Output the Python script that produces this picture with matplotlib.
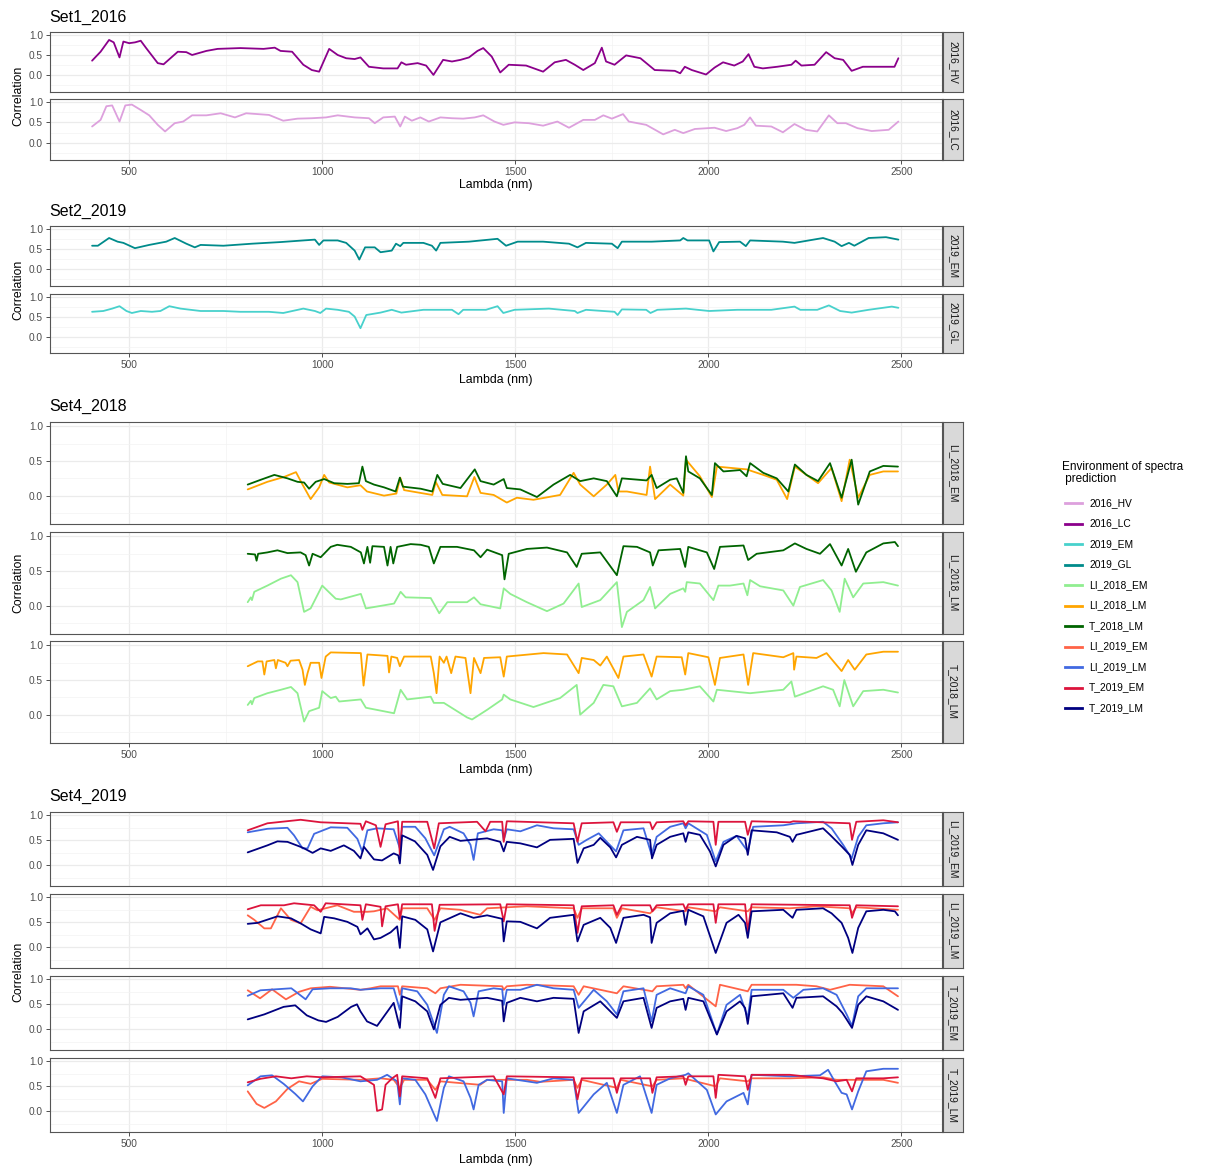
import matplotlib
matplotlib.use('Agg')
import matplotlib.pyplot as plt
from matplotlib.lines import Line2D

plt.rcParams['font.family'] = ['Liberation Sans', 'DejaVu Sans']

# environments (legend order) and their colours
envs = ['2016_HV', '2016_LC', '2019_EM', '2019_GL', 'LI_2018_EM', 'LI_2018_LM',
        'T_2018_LM', 'LI_2019_EM', 'LI_2019_LM', 'T_2019_EM', 'T_2019_LM']
env_colors = ['#DDA0DD', '#8B008B', '#48D1CC', '#008B8B', '#90EE90', '#FFA500',
              '#006400', '#FF6347', '#4169E1', '#DC143C', '#000080']
COLORS = dict(zip(envs, env_colors))

# ---- Set1_2016 : (lambda nm, correlation) ----
lc_in_hv = [(404, 0.36), (426, 0.58), (448, 0.87), (460, 0.81), (475, 0.44), (485, 0.83), (500, 0.79),
            (515, 0.81), (530, 0.85), (544, 0.67), (574, 0.30), (589, 0.27), (626, 0.58), (648, 0.57),
            (663, 0.50), (700, 0.60), (729, 0.65), (788, 0.67), (848, 0.65), (877, 0.68), (892, 0.60),
            (922, 0.58), (951, 0.26), (973, 0.13), (992, 0.09), (1018, 0.65), (1040, 0.50), (1062, 0.42),
            (1084, 0.40), (1099, 0.44), (1121, 0.21), (1158, 0.17), (1195, 0.17), (1205, 0.32), (1217, 0.26),
            (1247, 0.30), (1269, 0.24), (1288, 0.01), (1313, 0.38), (1336, 0.34), (1358, 0.38), (1380, 0.44),
            (1402, 0.60), (1417, 0.67), (1439, 0.46), (1461, 0.07), (1483, 0.26), (1528, 0.24), (1572, 0.09),
            (1602, 0.32), (1631, 0.38), (1654, 0.26), (1676, 0.13), (1706, 0.30), (1724, 0.68), (1735, 0.34),
            (1757, 0.26), (1787, 0.49), (1824, 0.42), (1861, 0.13), (1913, 0.11), (1927, 0.05), (1939, 0.21),
            (1957, 0.13), (1994, 0.02), (2016, 0.19), (2038, 0.32), (2067, 0.24), (2089, 0.34), (2104, 0.52),
            (2119, 0.21), (2141, 0.17), (2178, 0.21), (2215, 0.26), (2226, 0.36), (2241, 0.24), (2275, 0.26),
            (2305, 0.57), (2327, 0.42), (2349, 0.38), (2371, 0.11), (2400, 0.21), (2444, 0.21), (2482, 0.21),
            (2492, 0.42)]
hv_in_lc = [(404, 0.40), (426, 0.56), (441, 0.89), (456, 0.91), (475, 0.52), (490, 0.91), (507, 0.93),
            (530, 0.80), (552, 0.67), (574, 0.44), (593, 0.28), (618, 0.48), (640, 0.52), (663, 0.67),
            (700, 0.67), (737, 0.72), (774, 0.62), (803, 0.72), (862, 0.68), (899, 0.54), (936, 0.59),
            (973, 0.60), (1010, 0.62), (1040, 0.67), (1084, 0.62), (1121, 0.60), (1136, 0.48), (1158, 0.62),
            (1188, 0.64), (1202, 0.40), (1214, 0.64), (1232, 0.54), (1254, 0.62), (1276, 0.52), (1306, 0.62),
            (1336, 0.60), (1365, 0.59), (1395, 0.62), (1417, 0.67), (1446, 0.52), (1469, 0.44), (1498, 0.50),
            (1535, 0.48), (1572, 0.42), (1609, 0.52), (1639, 0.37), (1676, 0.56), (1706, 0.56), (1728, 0.67),
            (1750, 0.59), (1779, 0.70), (1794, 0.52), (1839, 0.44), (1883, 0.21), (1913, 0.32), (1935, 0.24),
            (1965, 0.34), (2016, 0.37), (2046, 0.29), (2075, 0.36), (2093, 0.44), (2108, 0.62), (2123, 0.42),
            (2163, 0.40), (2193, 0.26), (2223, 0.46), (2252, 0.32), (2282, 0.28), (2312, 0.67), (2334, 0.48),
            (2356, 0.48), (2386, 0.36), (2423, 0.29), (2467, 0.32), (2492, 0.52)]

# ---- Set2_2019 ----
gl_in_em = [(404, 0.58), (419, 0.58), (448, 0.77), (470, 0.68), (485, 0.65), (515, 0.52), (552, 0.60),
            (596, 0.68), (618, 0.77), (648, 0.63), (670, 0.54), (685, 0.60), (744, 0.58), (818, 0.63),
            (892, 0.67), (951, 0.71), (981, 0.73), (992, 0.60), (1003, 0.71), (1040, 0.71), (1062, 0.65),
            (1084, 0.46), (1096, 0.24), (1111, 0.54), (1136, 0.54), (1151, 0.42), (1180, 0.46), (1191, 0.63),
            (1202, 0.57), (1210, 0.65), (1262, 0.65), (1284, 0.58), (1295, 0.46), (1306, 0.65), (1380, 0.68),
            (1454, 0.75), (1476, 0.58), (1506, 0.68), (1572, 0.68), (1639, 0.63), (1661, 0.54), (1683, 0.65),
            (1750, 0.63), (1765, 0.52), (1776, 0.68), (1853, 0.68), (1927, 0.71), (1935, 0.77), (1946, 0.71),
            (2002, 0.71), (2013, 0.44), (2028, 0.67), (2082, 0.68), (2097, 0.57), (2108, 0.71), (2193, 0.68),
            (2223, 0.65), (2297, 0.77), (2327, 0.68), (2345, 0.57), (2364, 0.65), (2378, 0.58), (2415, 0.77),
            (2460, 0.79), (2492, 0.73)]
em_in_gl = [(404, 0.62), (433, 0.64), (456, 0.70), (475, 0.76), (493, 0.64), (507, 0.59), (530, 0.64),
            (559, 0.62), (581, 0.64), (604, 0.76), (633, 0.70), (685, 0.64), (744, 0.64), (788, 0.62),
            (862, 0.62), (899, 0.59), (951, 0.70), (981, 0.64), (995, 0.59), (1010, 0.70), (1040, 0.67),
            (1069, 0.62), (1084, 0.50), (1099, 0.21), (1114, 0.54), (1151, 0.60), (1180, 0.67), (1205, 0.60),
            (1262, 0.67), (1336, 0.67), (1353, 0.56), (1365, 0.67), (1424, 0.67), (1454, 0.76), (1469, 0.59),
            (1498, 0.67), (1587, 0.70), (1654, 0.64), (1661, 0.59), (1683, 0.67), (1757, 0.62), (1765, 0.54),
            (1776, 0.68), (1839, 0.67), (1850, 0.59), (1868, 0.67), (1942, 0.70), (2002, 0.64), (2075, 0.67),
            (2163, 0.67), (2223, 0.75), (2238, 0.67), (2282, 0.67), (2312, 0.78), (2341, 0.64), (2371, 0.60),
            (2415, 0.67), (2475, 0.75), (2492, 0.72)]

# ---- Set4_2018 ----
t18lm_in_li18em = [(807, 0.16), (841, 0.23), (876, 0.30), (910, 0.25), (936, 0.20), (953, 0.19), (966, 0.10),
                   (983, 0.20), (1005, 0.24), (1031, 0.18), (1065, 0.17), (1095, 0.18), (1104, 0.42), (1113, 0.21),
                   (1134, 0.16), (1160, 0.12), (1190, 0.06), (1201, 0.26), (1209, 0.13), (1255, 0.10), (1285, 0.06),
                   (1298, 0.30), (1312, 0.17), (1358, 0.11), (1395, 0.38), (1410, 0.21), (1444, 0.16), (1470, 0.24),
                   (1478, 0.11), (1513, 0.09), (1556, -0.02), (1599, 0.16), (1642, 0.30), (1668, 0.21), (1703, 0.25),
                   (1737, 0.21), (1763, -0.01), (1776, 0.25), (1840, 0.22), (1853, 0.30), (1866, 0.11), (1901, 0.23),
                   (1918, 0.25), (1935, 0.04), (1942, 0.57), (1948, 0.35), (1978, 0.25), (2009, 0.01), (2017, 0.47),
                   (2039, 0.35), (2082, 0.37), (2099, 0.28), (2108, 0.47), (2142, 0.33), (2177, 0.25), (2207, 0.06),
                   (2224, 0.45), (2254, 0.30), (2284, 0.21), (2315, 0.47), (2345, -0.03), (2371, 0.52), (2388, -0.13),
                   (2418, 0.35), (2453, 0.43), (2491, 0.42)]
li18lm_in_li18em = [(807, 0.09), (858, 0.20), (901, 0.27), (932, 0.34), (949, 0.16), (970, -0.05), (992, 0.12),
                    (1005, 0.30), (1018, 0.19), (1065, 0.12), (1099, 0.15), (1116, 0.06), (1160, 0.00), (1192, 0.03),
                    (1202, 0.26), (1212, 0.08), (1285, 0.01), (1294, 0.20), (1311, 0.01), (1375, -0.01), (1394, 0.27),
                    (1410, 0.04), (1444, 0.01), (1478, -0.10), (1504, -0.03), (1547, -0.06), (1616, 0.01), (1651, 0.33),
                    (1668, 0.16), (1703, -0.01), (1737, 0.16), (1759, 0.30), (1767, 0.06), (1789, 0.06), (1840, 0.01),
                    (1849, 0.42), (1862, -0.05), (1901, 0.16), (1935, 0.00), (1942, 0.52), (1978, 0.28), (2009, -0.02),
                    (2022, 0.42), (2099, 0.38), (2142, 0.30), (2177, 0.23), (2204, -0.05), (2224, 0.42), (2284, 0.18),
                    (2319, 0.40), (2345, -0.08), (2366, 0.52), (2388, -0.03), (2418, 0.30), (2453, 0.35), (2491, 0.35)]
t18lm_in_li18lm = [(807, 0.75), (826, 0.74), (830, 0.65), (834, 0.75), (858, 0.77), (884, 0.80), (910, 0.76),
                   (944, 0.77), (957, 0.73), (966, 0.58), (975, 0.75), (996, 0.70), (1022, 0.85), (1039, 0.88),
                   (1074, 0.85), (1100, 0.77), (1108, 0.61), (1117, 0.85), (1124, 0.62), (1130, 0.86), (1160, 0.85),
                   (1169, 0.58), (1177, 0.85), (1184, 0.61), (1194, 0.85), (1229, 0.89), (1255, 0.88), (1276, 0.85),
                   (1289, 0.61), (1306, 0.85), (1349, 0.85), (1393, 0.80), (1410, 0.70), (1427, 0.81), (1466, 0.73),
                   (1472, 0.38), (1483, 0.75), (1530, 0.82), (1582, 0.84), (1634, 0.77), (1659, 0.56), (1672, 0.75),
                   (1720, 0.77), (1763, 0.44), (1780, 0.86), (1815, 0.85), (1849, 0.77), (1856, 0.58), (1871, 0.80),
                   (1927, 0.82), (1940, 0.56), (1948, 0.85), (1996, 0.77), (2015, 0.53), (2030, 0.85), (2091, 0.87),
                   (2103, 0.66), (2125, 0.75), (2194, 0.80), (2224, 0.90), (2254, 0.82), (2289, 0.75), (2315, 0.89),
                   (2345, 0.58), (2362, 0.82), (2382, 0.49), (2409, 0.77), (2453, 0.90), (2483, 0.92), (2491, 0.86)]
li18em_in_li18lm = [(807, 0.05), (815, 0.12), (818, 0.08), (824, 0.20), (858, 0.29), (893, 0.39), (919, 0.44),
                    (936, 0.34), (953, -0.09), (970, -0.04), (1000, 0.29), (1022, 0.17), (1035, 0.10), (1048, 0.09),
                    (1100, 0.17), (1113, -0.04), (1134, -0.02), (1186, 0.03), (1203, 0.20), (1216, 0.12), (1281, 0.11),
                    (1303, -0.11), (1324, 0.05), (1375, 0.05), (1393, 0.12), (1410, 0.02), (1461, -0.04), (1470, 0.25),
                    (1487, 0.17), (1530, 0.05), (1582, -0.08), (1625, 0.03), (1664, 0.32), (1672, -0.02), (1720, 0.08),
                    (1763, 0.34), (1776, -0.31), (1789, -0.09), (1832, 0.08), (1849, 0.27), (1862, -0.04), (1901, 0.17),
                    (1935, 0.25), (1940, 0.20), (1944, 0.34), (1978, 0.32), (2013, 0.08), (2026, 0.29), (2056, 0.29),
                    (2091, 0.32), (2101, 0.15), (2108, 0.37), (2134, 0.28), (2194, 0.22), (2220, 0.00), (2237, 0.27),
                    (2297, 0.37), (2319, 0.22), (2340, -0.09), (2353, 0.39), (2375, 0.12), (2401, 0.32), (2453, 0.34),
                    (2491, 0.29)]
li18lm_in_t18lm = [(807, 0.70), (833, 0.77), (845, 0.77), (850, 0.58), (856, 0.77), (876, 0.79), (880, 0.67),
                   (885, 0.79), (905, 0.75), (910, 0.70), (918, 0.78), (940, 0.79), (949, 0.65), (955, 0.43),
                   (962, 0.60), (970, 0.75), (992, 0.75), (998, 0.53), (1009, 0.84), (1022, 0.90), (1100, 0.89),
                   (1107, 0.42), (1117, 0.87), (1169, 0.85), (1173, 0.61), (1179, 0.84), (1194, 0.82), (1201, 0.70),
                   (1212, 0.84), (1281, 0.84), (1289, 0.60), (1296, 0.31), (1304, 0.84), (1315, 0.75), (1322, 0.84),
                   (1334, 0.60), (1345, 0.84), (1371, 0.82), (1384, 0.31), (1393, 0.82), (1410, 0.60), (1419, 0.82),
                   (1461, 0.83), (1470, 0.55), (1478, 0.84), (1573, 0.89), (1634, 0.87), (1664, 0.60), (1672, 0.82),
                   (1703, 0.79), (1720, 0.71), (1737, 0.84), (1767, 0.53), (1780, 0.84), (1832, 0.87), (1853, 0.55),
                   (1866, 0.84), (1931, 0.83), (1940, 0.58), (1948, 0.89), (2000, 0.83), (2017, 0.43), (2030, 0.82),
                   (2091, 0.87), (2103, 0.43), (2116, 0.89), (2194, 0.83), (2220, 0.89), (2222, 0.65), (2228, 0.84),
                   (2280, 0.82), (2306, 0.89), (2345, 0.63), (2362, 0.79), (2379, 0.65), (2409, 0.87), (2453, 0.91),
                   (2491, 0.91)]
li18em_in_t18lm = [(807, 0.14), (815, 0.20), (818, 0.15), (824, 0.24), (858, 0.31), (893, 0.36), (919, 0.40),
                   (936, 0.31), (953, -0.10), (966, 0.05), (992, 0.10), (1000, 0.34), (1022, 0.24), (1035, 0.26),
                   (1044, 0.19), (1100, 0.22), (1113, 0.10), (1186, 0.02), (1203, 0.36), (1220, 0.22), (1281, 0.26),
                   (1289, 0.17), (1315, 0.17), (1375, -0.04), (1388, -0.07), (1427, 0.07), (1466, 0.22), (1470, 0.29),
                   (1487, 0.22), (1547, 0.11), (1616, 0.24), (1659, 0.43), (1668, 0.00), (1703, 0.17), (1728, 0.43),
                   (1754, 0.41), (1776, 0.12), (1815, 0.17), (1849, 0.38), (1866, 0.22), (1901, 0.34), (1935, 0.36),
                   (1978, 0.41), (2013, 0.19), (2022, 0.36), (2108, 0.31), (2194, 0.36), (2215, 0.48), (2224, 0.26),
                   (2297, 0.41), (2323, 0.36), (2340, 0.12), (2352, 0.50), (2375, 0.12), (2401, 0.34), (2453, 0.36),
                   (2491, 0.32)]

# ---- Set4_2019 ----
t19lm_in_li19em = [(807, 0.26), (858, 0.40), (884, 0.48), (910, 0.47), (944, 0.37), (953, 0.34), (975, 0.25),
                   (996, 0.34), (1022, 0.29), (1056, 0.40), (1082, 0.29), (1099, 0.14), (1108, 0.37), (1134, 0.12),
                   (1155, 0.10), (1185, 0.24), (1197, 0.20), (1201, 0.04), (1207, 0.60), (1240, 0.48), (1272, 0.21),
                   (1287, -0.09), (1306, 0.38), (1330, 0.57), (1358, 0.49), (1427, 0.54), (1461, 0.47), (1470, 0.28),
                   (1478, 0.47), (1513, 0.44), (1556, 0.36), (1590, 0.51), (1651, 0.53), (1661, 0.05), (1677, 0.34),
                   (1703, 0.41), (1720, 0.55), (1746, 0.36), (1761, 0.16), (1776, 0.41), (1815, 0.57), (1849, 0.51),
                   (1854, 0.14), (1866, 0.41), (1901, 0.57), (1935, 0.64), (1941, 0.47), (1948, 0.66), (1978, 0.61),
                   (2004, 0.28), (2019, -0.02), (2039, 0.41), (2073, 0.59), (2095, 0.54), (2102, 0.21), (2112, 0.70),
                   (2177, 0.66), (2211, 0.57), (2218, 0.47), (2228, 0.61), (2297, 0.74), (2315, 0.61), (2345, 0.38),
                   (2366, 0.21), (2373, 0.01), (2388, 0.41), (2409, 0.70), (2453, 0.64), (2491, 0.51)]
li19lm_in_li19em = [(807, 0.66), (858, 0.73), (910, 0.75), (927, 0.60), (949, 0.34), (962, 0.34), (979, 0.63),
                    (1022, 0.76), (1065, 0.75), (1091, 0.53), (1104, 0.27), (1117, 0.70), (1142, 0.74), (1185, 0.72),
                    (1201, 0.34), (1207, 0.77), (1241, 0.77), (1267, 0.54), (1290, 0.20), (1315, 0.72), (1330, 0.77),
                    (1366, 0.64), (1384, 0.41), (1392, 0.11), (1403, 0.64), (1444, 0.72), (1466, 0.70), (1470, 0.51),
                    (1478, 0.72), (1513, 0.68), (1556, 0.80), (1599, 0.74), (1651, 0.72), (1664, 0.41), (1685, 0.51),
                    (1716, 0.64), (1737, 0.47), (1761, 0.28), (1780, 0.70), (1832, 0.74), (1853, 0.21), (1866, 0.57),
                    (1901, 0.77), (1935, 0.84), (1941, 0.74), (1948, 0.84), (1996, 0.61), (2019, 0.08), (2039, 0.47),
                    (2073, 0.59), (2102, 0.28), (2116, 0.77), (2194, 0.80), (2228, 0.84), (2297, 0.87), (2319, 0.74),
                    (2349, 0.41), (2371, 0.14), (2388, 0.57), (2409, 0.80), (2453, 0.84), (2491, 0.86)]
t19em_in_li19em = [(807, 0.70), (858, 0.84), (944, 0.91), (996, 0.86), (1099, 0.83), (1104, 0.71), (1113, 0.88),
                   (1139, 0.80), (1151, 0.37), (1164, 0.82), (1196, 0.88), (1201, 0.21), (1207, 0.87), (1272, 0.87),
                   (1290, 0.34), (1302, 0.84), (1401, 0.87), (1423, 0.68), (1435, 0.87), (1466, 0.87), (1470, 0.47),
                   (1478, 0.88), (1651, 0.84), (1661, 0.47), (1672, 0.84), (1754, 0.86), (1763, 0.67), (1773, 0.86),
                   (1849, 0.86), (1855, 0.72), (1866, 0.86), (1935, 0.88), (1941, 0.80), (1948, 0.88), (2013, 0.87),
                   (2019, 0.41), (2026, 0.87), (2095, 0.87), (2102, 0.61), (2112, 0.88), (2211, 0.86), (2220, 0.88),
                   (2366, 0.84), (2372, 0.51), (2383, 0.87), (2453, 0.90), (2491, 0.86)]

t19lm_in_li19lm = [(807, 0.47), (833, 0.49), (884, 0.62), (919, 0.58), (944, 0.48), (970, 0.36), (996, 0.28),
                   (1005, 0.61), (1031, 0.58), (1065, 0.51), (1091, 0.41), (1099, 0.26), (1117, 0.38), (1134, 0.16),
                   (1151, 0.19), (1177, 0.30), (1194, 0.42), (1201, -0.01), (1207, 0.62), (1241, 0.55), (1272, 0.36),
                   (1287, -0.08), (1306, 0.50), (1358, 0.68), (1392, 0.59), (1427, 0.64), (1466, 0.57), (1470, 0.12),
                   (1478, 0.52), (1513, 0.51), (1556, 0.38), (1590, 0.59), (1651, 0.65), (1661, 0.12), (1677, 0.45),
                   (1720, 0.59), (1746, 0.39), (1761, 0.09), (1780, 0.59), (1832, 0.65), (1849, 0.60), (1853, 0.09),
                   (1866, 0.49), (1901, 0.68), (1935, 0.73), (1941, 0.45), (1948, 0.75), (1987, 0.62), (2019, -0.11),
                   (2047, 0.49), (2078, 0.65), (2095, 0.49), (2102, 0.19), (2112, 0.72), (2194, 0.75), (2218, 0.59),
                   (2228, 0.75), (2297, 0.78), (2319, 0.68), (2345, 0.49), (2362, 0.19), (2373, -0.11), (2388, 0.39),
                   (2409, 0.72), (2453, 0.75), (2483, 0.72), (2491, 0.64)]
t19em_in_li19lm = [(807, 0.76), (841, 0.84), (901, 0.84), (927, 0.88), (979, 0.84), (996, 0.71), (1009, 0.88),
                   (1099, 0.84), (1104, 0.55), (1113, 0.86), (1151, 0.81), (1155, 0.42), (1164, 0.82), (1196, 0.86),
                   (1201, 0.58), (1207, 0.86), (1284, 0.86), (1291, 0.33), (1304, 0.85), (1461, 0.86), (1470, 0.52),
                   (1478, 0.86), (1651, 0.84), (1661, 0.29), (1672, 0.82), (1754, 0.84), (1763, 0.65), (1776, 0.84),
                   (1849, 0.84), (1855, 0.72), (1866, 0.84), (1935, 0.86), (1941, 0.75), (1948, 0.86), (2013, 0.86),
                   (2019, 0.49), (2026, 0.86), (2095, 0.86), (2102, 0.32), (2112, 0.86), (2366, 0.84), (2372, 0.59),
                   (2383, 0.84), (2491, 0.82)]
li19em_in_li19lm = [(807, 0.64), (824, 0.55), (850, 0.38), (867, 0.38), (893, 0.78), (919, 0.55), (944, 0.48),
                    (970, 0.81), (988, 0.74), (1039, 0.84), (1082, 0.71), (1117, 0.71), (1134, 0.72), (1168, 0.78),
                    (1201, 0.55), (1207, 0.78), (1272, 0.78), (1291, 0.55), (1306, 0.78), (1358, 0.75), (1409, 0.65),
                    (1427, 0.78), (1530, 0.82), (1651, 0.78), (1661, 0.59), (1672, 0.78), (1754, 0.78), (1763, 0.59),
                    (1776, 0.78), (1849, 0.68), (1866, 0.80), (1941, 0.72), (1948, 0.80), (2019, 0.72), (2030, 0.80),
                    (2102, 0.72), (2112, 0.80), (2211, 0.78), (2280, 0.82), (2366, 0.78), (2372, 0.68), (2383, 0.80),
                    (2491, 0.75)]

t19lm_in_t19em = [(807, 0.20), (850, 0.30), (900, 0.45), (930, 0.48), (960, 0.28), (990, 0.18), (1010, 0.15),
                  (1040, 0.25), (1075, 0.45), (1090, 0.50), (1099, 0.36), (1116, 0.16), (1142, 0.07), (1185, 0.53),
                  (1201, 0.03), (1207, 0.66), (1241, 0.56), (1272, 0.36), (1289, 0.00), (1306, 0.49), (1328, 0.63),
                  (1358, 0.59), (1427, 0.63), (1466, 0.57), (1470, 0.16), (1478, 0.53), (1513, 0.63), (1556, 0.56),
                  (1599, 0.63), (1651, 0.61), (1664, -0.07), (1677, 0.36), (1720, 0.56), (1763, 0.23), (1780, 0.56),
                  (1832, 0.63), (1853, 0.03), (1866, 0.43), (1901, 0.56), (1935, 0.61), (1941, 0.39), (1948, 0.63),
                  (1987, 0.56), (2022, -0.10), (2047, 0.36), (2082, 0.56), (2095, 0.43), (2102, 0.11), (2112, 0.66),
                  (2194, 0.72), (2218, 0.43), (2228, 0.63), (2297, 0.66), (2332, 0.46), (2347, 0.33), (2358, 0.20),
                  (2372, 0.03), (2388, 0.49), (2409, 0.66), (2453, 0.56), (2491, 0.39)]
li19lm_in_t19em = [(807, 0.67), (840, 0.78), (880, 0.80), (920, 0.82), (957, 0.60), (975, 0.80), (1020, 0.82),
                   (1074, 0.82), (1099, 0.79), (1151, 0.82), (1185, 0.82), (1201, 0.39), (1207, 0.82), (1246, 0.76),
                   (1272, 0.49), (1297, -0.07), (1315, 0.69), (1328, 0.86), (1366, 0.76), (1384, 0.53), (1392, 0.26),
                   (1405, 0.76), (1444, 0.82), (1466, 0.80), (1470, 0.49), (1478, 0.79), (1513, 0.79), (1556, 0.89),
                   (1599, 0.82), (1651, 0.79), (1664, 0.43), (1703, 0.79), (1737, 0.56), (1763, 0.30), (1780, 0.76),
                   (1832, 0.82), (1853, 0.16), (1866, 0.69), (1901, 0.82), (1941, 0.72), (1948, 0.86), (1987, 0.69),
                   (2022, -0.10), (2047, 0.49), (2082, 0.69), (2102, 0.23), (2112, 0.79), (2194, 0.79), (2220, 0.63),
                   (2246, 0.79), (2297, 0.82), (2332, 0.69), (2358, 0.30), (2372, 0.07), (2388, 0.66), (2409, 0.82),
                   (2491, 0.82)]
li19em_in_t19em = [(807, 0.78), (839, 0.62), (870, 0.80), (906, 0.60), (940, 0.75), (970, 0.82), (1020, 0.85),
                   (1099, 0.79), (1125, 0.82), (1151, 0.86), (1196, 0.86), (1201, 0.69), (1207, 0.86), (1272, 0.82),
                   (1293, 0.72), (1306, 0.82), (1358, 0.89), (1466, 0.86), (1470, 0.79), (1478, 0.86), (1530, 0.89),
                   (1651, 0.86), (1664, 0.69), (1677, 0.86), (1763, 0.72), (1780, 0.86), (1855, 0.76), (1866, 0.86),
                   (1935, 0.89), (1941, 0.82), (1948, 0.89), (2019, 0.46), (2030, 0.89), (2102, 0.76), (2112, 0.89),
                   (2228, 0.89), (2280, 0.86), (2315, 0.79), (2366, 0.89), (2453, 0.86), (2491, 0.66)]

li19lm_in_t19lm = [(807, 0.52), (840, 0.70), (870, 0.72), (900, 0.55), (930, 0.35), (950, 0.20), (975, 0.50),
                   (1000, 0.70), (1050, 0.68), (1099, 0.60), (1142, 0.63), (1168, 0.73), (1194, 0.60), (1201, 0.14),
                   (1207, 0.66), (1241, 0.63), (1267, 0.34), (1297, -0.19), (1315, 0.47), (1328, 0.70), (1366, 0.60),
                   (1384, 0.27), (1392, 0.04), (1405, 0.53), (1427, 0.63), (1466, 0.60), (1470, -0.03), (1478, 0.66),
                   (1530, 0.60), (1556, 0.57), (1599, 0.66), (1651, 0.63), (1664, -0.03), (1703, 0.34), (1737, 0.57),
                   (1763, -0.03), (1780, 0.53), (1823, 0.70), (1853, -0.03), (1866, 0.53), (1901, 0.66), (1941, 0.73),
                   (1948, 0.76), (1996, 0.43), (2019, -0.06), (2047, 0.20), (2091, 0.37), (2102, 0.14), (2112, 0.73),
                   (2211, 0.70), (2289, 0.72), (2310, 0.83), (2327, 0.60), (2345, 0.37), (2358, 0.34), (2372, 0.04),
                   (2388, 0.40), (2409, 0.80), (2453, 0.85), (2491, 0.85)]
t19em_in_t19lm = [(807, 0.58), (840, 0.65), (880, 0.70), (920, 0.66), (960, 0.70), (1000, 0.68), (1099, 0.70),
                  (1134, 0.53), (1142, 0.01), (1155, 0.04), (1164, 0.53), (1181, 0.66), (1194, 0.73), (1201, 0.30),
                  (1207, 0.70), (1272, 0.66), (1293, 0.27), (1306, 0.66), (1444, 0.70), (1470, 0.34), (1478, 0.70),
                  (1651, 0.68), (1661, 0.24), (1672, 0.66), (1754, 0.66), (1763, 0.37), (1773, 0.66), (1849, 0.66),
                  (1855, 0.37), (1866, 0.68), (1935, 0.70), (1941, 0.53), (1948, 0.70), (2013, 0.70), (2019, 0.27),
                  (2026, 0.73), (2095, 0.70), (2102, 0.43), (2112, 0.73), (2211, 0.73), (2297, 0.66), (2332, 0.60),
                  (2358, 0.63), (2372, 0.40), (2383, 0.66), (2453, 0.66), (2491, 0.68)]
li19em_in_t19lm = [(807, 0.40), (830, 0.15), (850, 0.07), (880, 0.20), (910, 0.45), (940, 0.60), (970, 0.55),
                   (1000, 0.65), (1099, 0.63), (1151, 0.66), (1185, 0.63), (1201, 0.47), (1212, 0.63), (1272, 0.63),
                   (1293, 0.43), (1306, 0.60), (1409, 0.53), (1427, 0.63), (1530, 0.63), (1565, 0.59), (1651, 0.63),
                   (1661, 0.47), (1672, 0.63), (1763, 0.47), (1773, 0.63), (1855, 0.50), (1866, 0.63), (1935, 0.66),
                   (2019, 0.50), (2030, 0.66), (2102, 0.60), (2112, 0.66), (2211, 0.66), (2297, 0.68), (2332, 0.63),
                   (2366, 0.63), (2453, 0.63), (2491, 0.57)]

# ---- figure, laid out in pixels ----
W, H, DPI = 1213, 1169, 100
fig = plt.figure(figsize=(W / DPI, H / DPI), dpi=DPI)


def box(x0, y0, x1, y1):
    return [x0 / W, 1 - y1 / H, (x1 - x0) / W, (y1 - y0) / H]


PX0, PX1 = 50, 942


def facet(top, bottom, strip_label, curves, last):
    ax = fig.add_axes(box(PX0, top, PX1, bottom))
    for env, pts in curves:
        pts = sorted(pts)
        ax.plot([p[0] for p in pts], [p[1] for p in pts], color=COLORS[env], lw=1.3,
                solid_joinstyle='round', solid_capstyle='round', zorder=3)
    ax.set_xlim(295, 2605)
    ax.set_ylim(-0.41, 1.065)
    ax.set_xticks([500, 1000, 1500, 2000, 2500])
    ax.set_xticks([750, 1250, 1750, 2250], minor=True)
    ax.set_yticks([0, 0.5, 1.0])
    ax.set_yticks([-0.25, 0.25, 0.75], minor=True)
    ax.set_yticklabels(['0.0', '0.5', '1.0'])
    ax.grid(True, which='major', color='#EBEBEB', lw=0.9, zorder=0)
    ax.grid(True, which='minor', color='#F3F3F3', lw=0.5, zorder=0)
    ax.tick_params(which='minor', length=0)
    ax.tick_params(which='major', length=3, width=0.6, color='#333333', labelsize=7.3,
                   labelcolor='#4D4D4D', pad=2)
    if not last:
        ax.tick_params(axis='x', which='major', length=0, labelbottom=False)
    for s in ax.spines.values():
        s.set_color('#555555')
        s.set_linewidth(0.8)
    sx = fig.add_axes(box(943, top, 963, bottom))
    sx.set_facecolor('#D9D9D9')
    sx.set_xticks([])
    sx.set_yticks([])
    for s in sx.spines.values():
        s.set_color('#555555')
        s.set_linewidth(0.8)
    sx.text(0.5, 0.5, strip_label, rotation=-90, ha='center', va='center', fontsize=7.4,
            color='#1A1A1A', transform=sx.transAxes)
    return ax


def group(title, title_y, panels, xlab_y):
    for i, (top, bottom, lab, curves) in enumerate(panels):
        facet(top, bottom, lab, curves, i == len(panels) - 1)
    fig.text(49 / W, 1 - title_y / H, title, fontsize=11.5, ha='left', va='center', color='black')
    fig.text((PX0 + PX1) / 2 / W, 1 - xlab_y / H, 'Lambda (nm)', fontsize=8.8, ha='center', va='center')
    ymid = (panels[0][0] + panels[-1][1]) / 2
    fig.text(18 / W, 1 - ymid / H, 'Correlation', fontsize=8.8, rotation=90, ha='center', va='center')


group('Set1_2016', 17, [
    (32, 92, '2016_HV', [('2016_LC', lc_in_hv)]),
    (99, 160, '2016_LC', [('2016_HV', hv_in_lc)]),
], 185)

group('Set2_2019', 211, [
    (226, 286, '2019_EM', [('2019_GL', gl_in_em)]),
    (294, 353, '2019_GL', [('2019_EM', em_in_gl)]),
], 380)

group('Set4_2018', 406, [
    (422, 524, 'LI_2018_EM', [('LI_2018_LM', li18lm_in_li18em), ('T_2018_LM', t18lm_in_li18em)]),
    (532, 634, 'LI_2018_LM', [('LI_2018_EM', li18em_in_li18lm), ('T_2018_LM', t18lm_in_li18lm)]),
    (641, 743, 'T_2018_LM', [('LI_2018_EM', li18em_in_t18lm), ('LI_2018_LM', li18lm_in_t18lm)]),
], 770)

group('Set4_2019', 796, [
    (812, 886, 'LI_2019_EM', [('LI_2019_LM', li19lm_in_li19em), ('T_2019_EM', t19em_in_li19em),
                              ('T_2019_LM', t19lm_in_li19em)]),
    (894, 968, 'LI_2019_LM', [('LI_2019_EM', li19em_in_li19lm), ('T_2019_EM', t19em_in_li19lm),
                              ('T_2019_LM', t19lm_in_li19lm)]),
    (976, 1050, 'T_2019_EM', [('LI_2019_EM', li19em_in_t19em), ('LI_2019_LM', li19lm_in_t19em),
                              ('T_2019_LM', t19lm_in_t19em)]),
    (1058, 1132, 'T_2019_LM', [('LI_2019_EM', li19em_in_t19lm), ('LI_2019_LM', li19lm_in_t19lm),
                               ('T_2019_EM', t19em_in_t19lm)]),
], 1160)

# legend
lax = fig.add_axes([0, 0, 1, 1])
lax.set_xlim(0, W)
lax.set_ylim(H, 0)
lax.axis('off')
lax.text(1062, 473, 'Environment of spectra\n prediction', fontsize=8.5, ha='left', va='center',
         linespacing=1.05)
for i, env in enumerate(envs):
    y = 503 + i * 20.5
    lax.add_line(Line2D([1065, 1082], [y, y], color=COLORS[env], lw=2.0))
    lax.text(1089, y, env, fontsize=7.4, ha='left', va='center', color='black')

fig.savefig('out.png', dpi=DPI)
